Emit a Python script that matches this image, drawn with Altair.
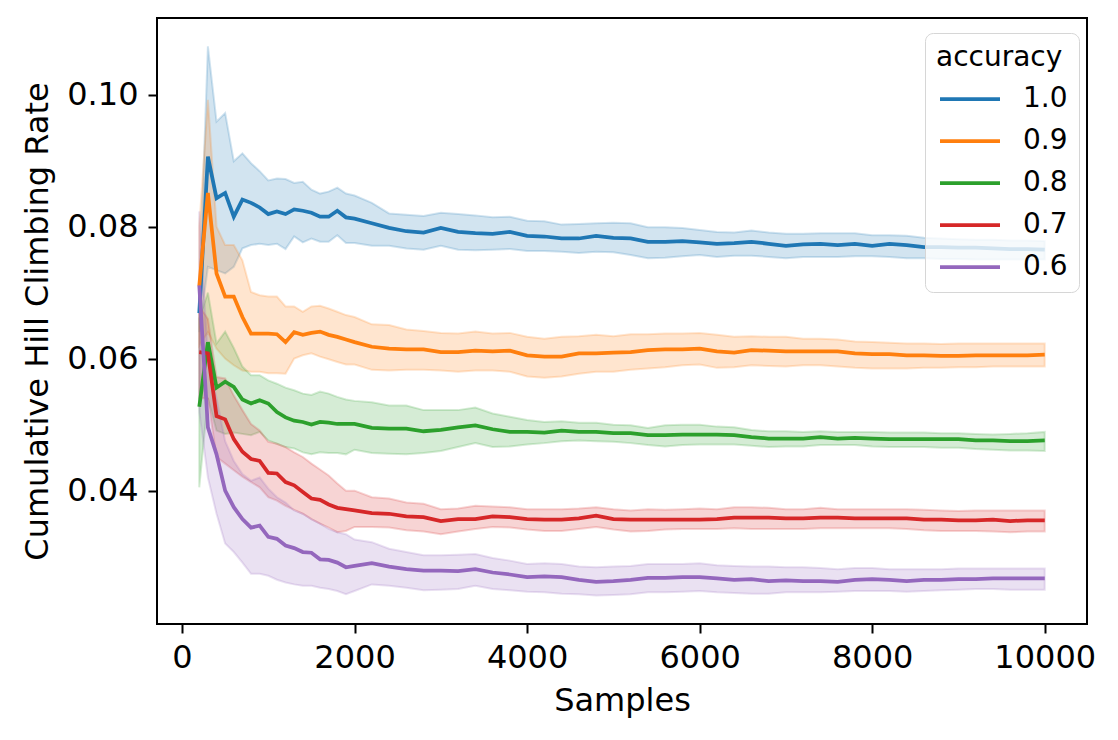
import altair as alt
import pandas as pd

# ---------------- data ----------------
X = list(range(200, 2001, 100)) + list(range(2200, 10001, 200))

ACC = ["1.0", "0.9", "0.8", "0.7", "0.6"]
COLORS = ["#1f77b4", "#ff7f0e", "#2ca02c", "#d62728", "#9467bd"]

BLUE_MEAN = [.0669, .0906, .0843, .0851, .0815, .0841, .0836, .0829, .0819, .0823, .0819, .0826, .0824, .0821, .0815, .0815, .0824, .0814, .0812,
             .0805, .0798, .0793, .0791, .0798, .0792, .0790, .0789, .0792, .0786, .0785, .0782, .0782, .0786, .0783, .0782, .0777, .0777, .0778, .0776,
             .0774, .0775, .0777, .0774, .0771, .0773, .0774, .0772, .0774, .0771, .0774, .0772, .0769, .0769, .0768, .0768, .0767, .0766, .0766, .0765]
BLUE_HI = [.0700, .1073, .0959, .0972, .0899, .0911, .0896, .0884, .0870, .0873, .0872, .0866, .0868, .0856, .0850, .0853, .0859, .0850, .0847,
           .0836, .0820, .0818, .0816, .0821, .0819, .0817, .0814, .0815, .0809, .0808, .0803, .0804, .0805, .0806, .0805, .0799, .0799, .0798, .0795,
           .0792, .0791, .0794, .0791, .0789, .0789, .0790, .0790, .0790, .0787, .0787, .0786, .0783, .0782, .0781, .0780, .0780, .0779, .0779, .0778]
BLUE_LO = [.0640, .0739, .0734, .0729, .0739, .0767, .0772, .0774, .0772, .0774, .0766, .0785, .0776, .0782, .0777, .0777, .0787, .0775, .0775,
           .0771, .0771, .0767, .0765, .0771, .0765, .0764, .0765, .0766, .0763, .0763, .0762, .0760, .0762, .0761, .0757, .0752, .0753, .0755, .0757,
           .0754, .0756, .0756, .0754, .0752, .0754, .0754, .0754, .0755, .0755, .0754, .0752, .0752, .0751, .0751, .0750, .0750, .0750, .0750, .0750]

ORANGE_MEAN = [.0710, .0851, .0729, .0694, .0694, .0663, .0638, .0638, .0638, .0637, .0625, .0640, .0636, .0639, .0641, .0636, .0633, .0629, .0625,
               .0618, .0615, .0614, .0614, .0610, .0610, .0612, .0611, .0612, .0605, .0603, .0603, .0608, .0608, .0609, .0610, .0613, .0614, .0614, .0615,
               .0611, .0609, .0613, .0612, .0611, .0611, .0611, .0611, .0608, .0607, .0607, .0605, .0605, .0604, .0604, .0605, .0605, .0605, .0605, .0606]
ORANGE_HI = [.0800, .0992, .0800, .0772, .0772, .0749, .0701, .0696, .0694, .0694, .0679, .0679, .0671, .0679, .0680, .0676, .0671, .0666, .0663,
             .0652, .0651, .0644, .0642, .0639, .0638, .0641, .0638, .0639, .0633, .0630, .0633, .0634, .0636, .0634, .0637, .0637, .0638, .0638, .0639,
             .0636, .0633, .0634, .0633, .0633, .0630, .0630, .0629, .0626, .0625, .0624, .0623, .0623, .0622, .0623, .0623, .0623, .0623, .0623, .0623]
ORANGE_LO = [.0620, .0640, .0615, .0600, .0590, .0582, .0580, .0580, .0578, .0578, .0577, .0600, .0605, .0608, .0603, .0599, .0595, .0591, .0591,
             .0583, .0582, .0583, .0583, .0582, .0580, .0582, .0582, .0580, .0573, .0571, .0573, .0577, .0580, .0580, .0583, .0585, .0587, .0590, .0591,
             .0586, .0587, .0590, .0589, .0588, .0590, .0590, .0588, .0586, .0585, .0585, .0585, .0586, .0586, .0587, .0587, .0588, .0588, .0588, .0588]

GREEN_MEAN = [.0527, .0625, .0556, .0565, .0557, .0538, .0532, .0537, .0532, .0519, .0511, .0506, .0504, .0500, .0504, .0503, .0501, .0501, .0501,
              .0495, .0494, .0494, .0490, .0492, .0496, .0499, .0493, .0489, .0489, .0488, .0491, .0489, .0489, .0487, .0487, .0484, .0484, .0485, .0485,
              .0485, .0484, .0481, .0479, .0479, .0479, .0481, .0479, .0480, .0479, .0478, .0478, .0478, .0478, .0478, .0476, .0476, .0475, .0475, .0476]
GREEN_HI = [.0660, .0700, .0623, .0641, .0616, .0588, .0575, .0575, .0567, .0562, .0556, .0552, .0547, .0545, .0550, .0547, .0542, .0538, .0536,
            .0534, .0529, .0529, .0522, .0522, .0522, .0526, .0517, .0512, .0507, .0504, .0505, .0503, .0503, .0500, .0499, .0495, .0499, .0500, .0500,
            .0497, .0496, .0492, .0490, .0490, .0489, .0490, .0489, .0489, .0489, .0488, .0488, .0488, .0487, .0487, .0486, .0485, .0486, .0487, .0489]
GREEN_LO = [.0405, .0540, .0491, .0486, .0488, .0486, .0484, .0489, .0476, .0471, .0466, .0464, .0458, .0455, .0458, .0457, .0457, .0455, .0462,
            .0457, .0456, .0455, .0457, .0460, .0466, .0472, .0466, .0467, .0470, .0472, .0475, .0476, .0475, .0474, .0472, .0469, .0467, .0469, .0470,
            .0470, .0470, .0468, .0466, .0467, .0467, .0469, .0469, .0469, .0467, .0466, .0466, .0466, .0465, .0465, .0463, .0462, .0461, .0461, .0460]

RED_MEAN = [.0610, .0608, .0513, .0508, .0478, .0459, .0448, .0445, .0427, .0426, .0413, .0408, .0398, .0388, .0386, .0379, .0374, .0372, .0370,
            .0366, .0365, .0361, .0360, .0354, .0357, .0357, .0361, .0360, .0357, .0356, .0356, .0358, .0362, .0357, .0356, .0356, .0356, .0356, .0356,
            .0357, .0359, .0359, .0359, .0358, .0358, .0359, .0359, .0358, .0358, .0358, .0358, .0356, .0356, .0355, .0355, .0356, .0354, .0355, .0355]
RED_HI = [.0680, .0660, .0572, .0570, .0544, .0522, .0501, .0491, .0474, .0471, .0466, .0458, .0451, .0441, .0432, .0423, .0411, .0400, .0400,
          .0390, .0388, .0382, .0380, .0372, .0373, .0377, .0376, .0375, .0372, .0372, .0372, .0373, .0375, .0372, .0370, .0372, .0371, .0372, .0373,
          .0372, .0375, .0375, .0374, .0372, .0372, .0374, .0372, .0372, .0372, .0372, .0372, .0371, .0370, .0369, .0370, .0370, .0370, .0370, .0370]
RED_LO = [.0540, .0540, .0451, .0441, .0431, .0421, .0413, .0405, .0390, .0385, .0377, .0371, .0365, .0357, .0350, .0344, .0337, .0339, .0345,
          .0345, .0344, .0340, .0338, .0334, .0338, .0342, .0345, .0344, .0341, .0339, .0339, .0342, .0345, .0341, .0338, .0339, .0341, .0342, .0342,
          .0342, .0343, .0342, .0342, .0342, .0342, .0343, .0343, .0343, .0343, .0343, .0342, .0340, .0339, .0339, .0339, .0338, .0337, .0338, .0338]

PURPLE_MEAN = [.0711, .0496, .0455, .0400, .0375, .0357, .0344, .0347, .0330, .0327, .0317, .0313, .0307, .0306, .0296, .0295, .0291, .0284, .0286,
               .0290, .0285, .0281, .0279, .0279, .0278, .0281, .0276, .0273, .0269, .0270, .0269, .0265, .0262, .0263, .0265, .0268, .0268, .0269, .0269,
               .0267, .0265, .0266, .0263, .0264, .0263, .0263, .0262, .0265, .0266, .0265, .0263, .0265, .0265, .0266, .0266, .0267, .0267, .0267, .0267]
PURPLE_HI = [.0823, .0600, .0540, .0475, .0445, .0425, .0415, .0420, .0403, .0390, .0382, .0370, .0365, .0357, .0350, .0342, .0337, .0334, .0326,
             .0322, .0312, .0307, .0302, .0302, .0303, .0304, .0298, .0294, .0289, .0290, .0289, .0285, .0284, .0285, .0286, .0289, .0289, .0289, .0290,
             .0287, .0286, .0285, .0285, .0284, .0284, .0283, .0281, .0283, .0283, .0281, .0281, .0281, .0281, .0282, .0282, .0282, .0282, .0282, .0282]
PURPLE_LO = [.0520, .0420, .0365, .0320, .0307, .0291, .0274, .0274, .0271, .0265, .0261, .0258, .0256, .0256, .0253, .0251, .0248, .0243, .0248,
             .0258, .0256, .0253, .0249, .0250, .0251, .0256, .0251, .0249, .0247, .0246, .0244, .0243, .0241, .0242, .0243, .0246, .0246, .0247, .0248,
             .0246, .0245, .0244, .0244, .0246, .0246, .0246, .0247, .0248, .0248, .0248, .0247, .0248, .0249, .0250, .0251, .0251, .0250, .0250, .0250]

X_TICKS = [0, 2000, 4000, 6000, 8000, 10000]
Y_TICKS = [0.04, 0.06, 0.08, 0.10]

# ---------------- table ----------------
series = {
    "1.0": (BLUE_MEAN, BLUE_LO, BLUE_HI),
    "0.9": (ORANGE_MEAN, ORANGE_LO, ORANGE_HI),
    "0.8": (GREEN_MEAN, GREEN_LO, GREEN_HI),
    "0.7": (RED_MEAN, RED_LO, RED_HI),
    "0.6": (PURPLE_MEAN, PURPLE_LO, PURPLE_HI),
}
rows = []
for acc in ACC:
    m, lo, hi = series[acc]
    for x, a, b, c in zip(X, m, lo, hi):
        rows.append({"accuracy": acc, "Samples": x, "mean": a, "lo": b, "hi": c})
df = pd.DataFrame(rows)

FONT = "DejaVu Sans"

xscale = alt.Scale(domain=[-290, 10490], nice=False, zero=False)
yscale = alt.Scale(domain=[0.0198, 0.1116], nice=False, zero=False)

xaxis = alt.Axis(values=X_TICKS, format="d", tickSize=9, tickWidth=2, tickColor="black",
                 labelFontSize=32, labelFont=FONT, labelColor="black", labelPadding=9,
                 labelFlush=False, domain=False, grid=False,
                 title="Samples", titleFontSize=32, titleFont=FONT, titleFontWeight="normal",
                 titleColor="black", titleBaseline="alphabetic", titleY=86)
yaxis = alt.Axis(values=Y_TICKS, format=".2f", tickSize=9, tickWidth=2, tickColor="black",
                 labelFontSize=32, labelFont=FONT, labelColor="black", labelPadding=10,
                 labelFlush=False, domain=False, grid=False,
                 title="Cumulative Hill Climbing Rate", titleFontSize=32, titleFont=FONT,
                 titleFontWeight="normal", titleColor="black", titleBaseline="alphabetic",
                 titleAngle=270, titleX=-110, titleY=303)

cscale = alt.Scale(domain=ACC, range=COLORS)

legend = alt.Legend(orient="none", legendX=768, legendY=15,
                    title="accuracy", titleFontSize=28, titleFont=FONT,
                    titleFontWeight="normal", titleColor="black", titlePadding=13,
                    labelFontSize=28, labelFont=FONT, labelColor="black",
                    symbolType="M-1,0H5", symbolSize=400, symbolStrokeWidth=3.75,
                    symbolOpacity=1, labelOffset=59, rowPadding=14, padding=11,
                    fillColor="rgba(255,255,255,0.8)", strokeColor="#d6d6d6",
                    cornerRadius=8)

band = alt.Chart(df).mark_area(opacity=1, fillOpacity=0.2, strokeOpacity=0.2, strokeWidth=2).encode(
    x=alt.X("Samples:Q", scale=xscale, axis=xaxis),
    y=alt.Y("lo:Q", scale=yscale, axis=yaxis),
    y2="hi:Q",
    color=alt.Color("accuracy:N", scale=cscale, legend=legend),
    stroke=alt.Stroke("accuracy:N", scale=cscale, legend=legend),
)

line = alt.Chart(df).mark_line(strokeWidth=3.75).encode(
    x=alt.X("Samples:Q", scale=xscale),
    y=alt.Y("mean:Q", scale=yscale),
    color=alt.Color("accuracy:N", scale=cscale, legend=legend),
    order=alt.Order("Samples:Q"),
)

chart = alt.layer(band, line).properties(
    width=930, height=606,
    padding={"left": 149, "top": 10, "right": 20, "bottom": 100},
    autosize=alt.AutoSizeParams(type="none"),
    background="white",
).configure_view(stroke="black", strokeWidth=2)

chart.save("out.html", embed_options={"renderer": "svg", "actions": False})
